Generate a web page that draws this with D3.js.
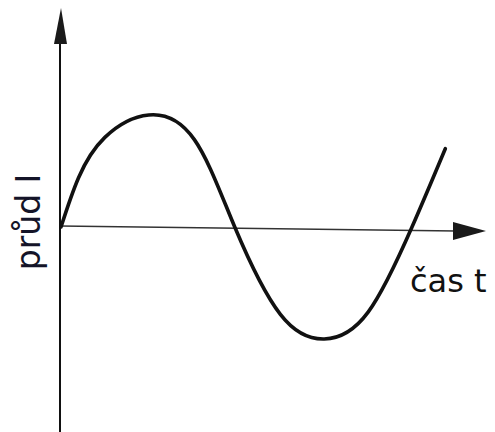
<!DOCTYPE html>
<html>
<head>
<meta charset="utf-8">
<script src="https://cdn.jsdelivr.net/npm/d3@7"></script>
<style>
  html, body { margin: 0; padding: 0; background: #fff; }
  svg { display: block; }
</style>
</head>
<body>
<svg id="chart" width="495" height="432"></svg>
<script>
// values (time in half-periods, current relative to peak)
const times    = [0, 0.10, 0.25, 0.5, 0.76, 0.99, 1.25, 1.5, 1.75, 2.0, 2.19];
const currents = [0, 0.44, 0.80, 1.0, 0.78, 0, -0.78, -1.0, -0.76, 0, 0.70];
const xLabel = "čas t";
const yLabel = "průd I";

let svg = d3.select('#chart');
let ink = '#111';

let xscale = d3.scaleLinear()
               .domain([0, 2])
               .range([61, 412]);
let yscale = d3.scaleLinear()
               .domain([-1, 1])
               .range([339, 115]);

// y axis with arrow
svg.append('line')
   .attr('x1', 60).attr('y1', 432)
   .attr('x2', 60).attr('y2', 40)
   .attr('stroke', ink)
   .attr('stroke-width', 2);
svg.append('path')
   .attr('d', 'M61,8 L54,44 L67,44 Z')
   .attr('fill', '#1a1a1a');

// x axis with arrow
svg.append('line')
   .attr('x1', 60).attr('y1', 226)
   .attr('x2', 456).attr('y2', 231)
   .attr('stroke', '#333')
   .attr('stroke-width', 1.6);
svg.append('path')
   .attr('d', 'M486,231 L453,222 L453,240 Z')
   .attr('fill', '#1a1a1a');

// current curve
let line = d3.line()
             .x((d, i) => xscale(times[i]))
             .y(d => yscale(d))
             .curve(d3.curveNatural);

svg.append('path')
   .datum(currents)
   .attr('d', line)
   .attr('fill', 'none')
   .attr('stroke', '#111')
   .attr('stroke-width', 3.6)
   .attr('stroke-linecap', 'round');

// labels
svg.append('text')
   .attr('x', 410)
   .attr('y', 292)
   .attr('font-family', 'DejaVu Sans')
   .attr('font-size', 32)
   .attr('fill', '#111')
   .text(xLabel);

svg.append('text')
   .attr('transform', 'translate(40,222) rotate(-90)')
   .attr('text-anchor', 'middle')
   .attr('font-family', 'DejaVu Sans')
   .attr('font-size', 33)
   .attr('fill', '#141428')
   .text(yLabel);
</script>
</body>
</html>
